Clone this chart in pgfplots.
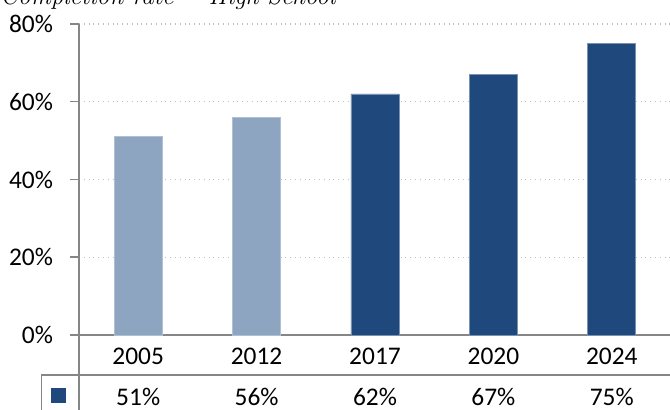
\documentclass[border=0pt]{standalone}
\usepackage{pgfplots}
\pgfplotsset{compat=1.18}
\usepackage{fontspec}
\setmainfont{Carlito}
\newfontfamily\titlefont{Latin Modern Roman}

\definecolor{barlight}{HTML}{8EA5C2}
\definecolor{bardark}{HTML}{1F497D}
\definecolor{axisgray}{HTML}{868686}
\definecolor{gridgray}{HTML}{BFBFBF}

\begin{document}
\begin{tikzpicture}
  \useasboundingbox (-39.5pt,-37.5pt) rectangle (295.5pt,167.5pt);
  \begin{axis}[
      at={(0,0)}, anchor=south west,
      scale only axis,
      width=296pt, height=155.5pt,
      ybar, bar width=24pt, bar shift=0pt,
      xmin=-0.5, xmax=4.5,
      ymin=0, ymax=80,
      ytick={0,20,40,60,80},
      yticklabel={\pgfmathprintnumber[assume math mode=true]{\tick}\%},
      yticklabel style={xshift=-5pt},
      xtick={0,1,2,3,4},
      xticklabels={{2005\\[5pt]51\%},{2012\\[5pt]56\%},{2017\\[5pt]62\%},{2020\\[5pt]67\%},{2024\\[5pt]75\%}},
      xticklabel style={align=center, anchor=north, yshift=1.7pt},
      axis lines*=left,
      axis line style={draw=axisgray, line width=0.75pt},
      x axis line style={shorten >=-1pt},
      ytick style={draw=axisgray, line width=0.75pt},
      xtick style={draw=none},
      tick align=outside,
      major tick length=4.5pt,
      ymajorgrids,
      grid style={gridgray, dotted, line width=0.6pt},
      tick label style={font=\fontsize{12.7}{15.5}\selectfont},
      clip=false,
    ]
    \addplot[fill=barlight, draw=barlight!70!white, line width=0.3pt]
      coordinates {(0,51) (1,56)};
    \addplot[fill=bardark, draw=bardark!60!white, line width=0.3pt]
      coordinates {(2,62) (3,67) (4,75)};
  \end{axis}
  % data table lines
  \draw[axisgray, line width=0.75pt] (0,0) -- (0,-37.5pt);
  \draw[axisgray, line width=0.75pt] (-18.65pt,-37.5pt) -- (-18.65pt,-20pt) -- (296pt,-20pt);
  \fill[bardark] (-14.15pt,-34.25pt) rectangle (-6.65pt,-26.75pt);
  % title
  \node[anchor=base west, inner sep=0pt] at (-39.5pt,165pt)
    {\titlefont\itshape\fontsize{12.6}{15}\selectfont Completion rate -- High School};
\end{tikzpicture}
\end{document}
